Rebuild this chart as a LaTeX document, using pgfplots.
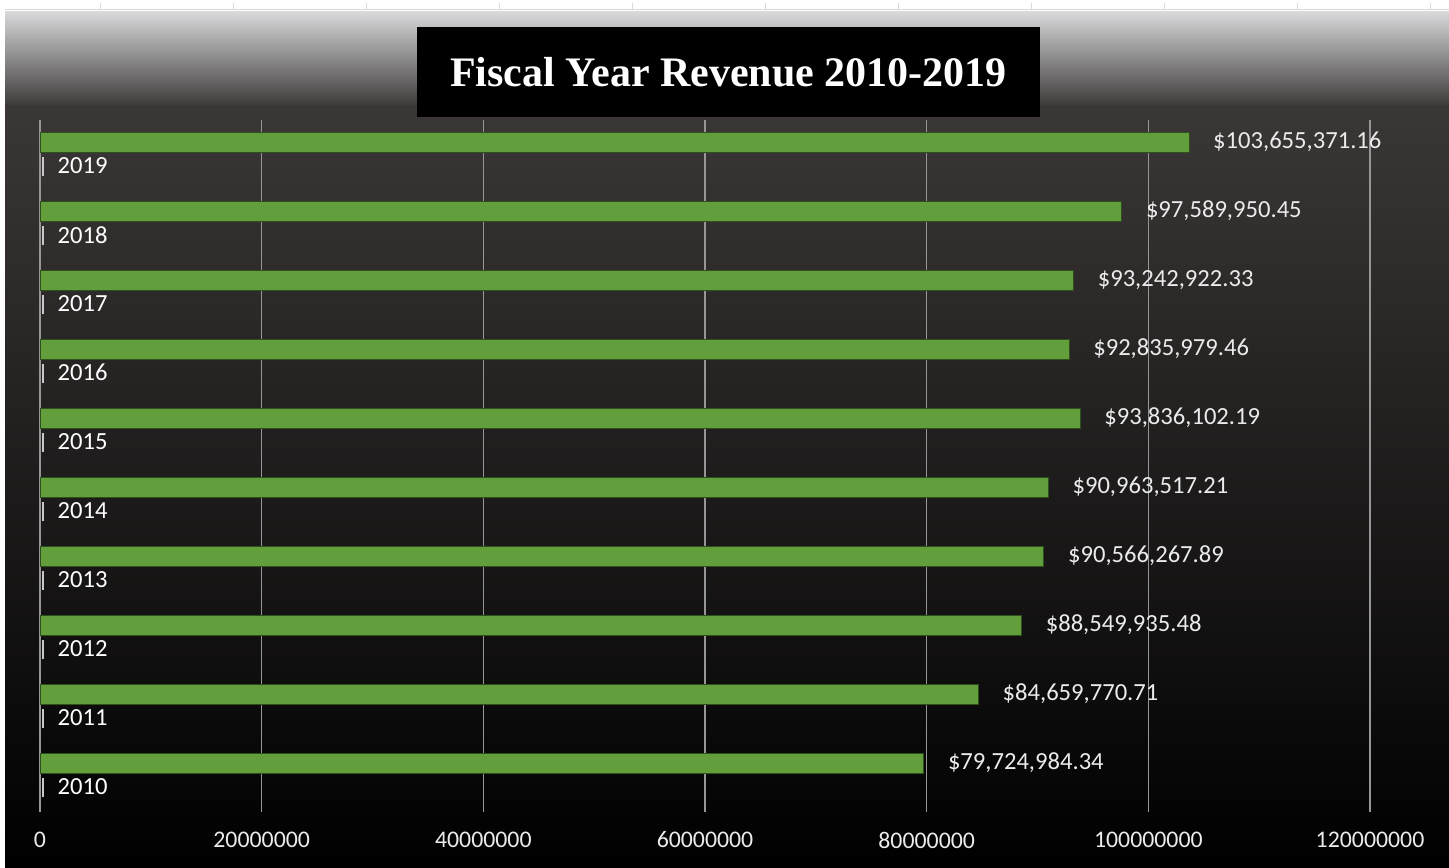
\documentclass[border=0pt]{standalone}
\usepackage{pgfplots}
\pgfplotsset{compat=1.18}
\usepackage{fontspec}
\setmainfont{Carlito}
\newfontfamily\titlefont{Liberation Serif}
\definecolor{bargreen}{RGB}{98,158,60}
\definecolor{gridgray}{RGB}{150,150,150}
\definecolor{lbl}{RGB}{235,235,235}
\definecolor{rulecol}{RGB}{200,200,200}
\begin{document}
\begin{tikzpicture}[x=1pt,y=1pt]
\useasboundingbox (0,0) rectangle (724.5,433.5);
\fill[white] (0,0) rectangle (724.5,433.5);
\draw[black!15, line width=0.6pt] (2.5,428.8) -- (724.5,428.8);
\foreach \t in {50,116.5,183,249.5,316,382.5,449,515.5,582,648.5,715}
  \draw[black!15, line width=0.5pt] (\t,428.8) -- (\t,432);
\shade[top color={rgb,255:red,216;green,216;blue,218}, bottom color={rgb,255:red,60;green,57;blue,56}] (2.5,380.5) rectangle (724.5,427.5);
\shade[top color={rgb,255:red,59;green,55;blue,54}, bottom color=black] (2.5,0) rectangle (724.5,380.6);
\begin{axis}[
  at={(20pt,27.5pt)}, anchor=south west,
  scale only axis, width=665pt, height=346pt,
  xmin=0, xmax=120000000, ymin=-0.71, ymax=9.32,
  xbar, bar width=10pt,
  axis line style={draw=none},
  xmajorgrids, grid style={color=gridgray, line width=0.7pt},
  major tick length=0pt,
  scaled x ticks=false, scaled y ticks=false,
  xtick={0,20000000,40000000,60000000,80000000,100000000,120000000},
  xticklabels={0,20000000,40000000,60000000,80000000,100000000,120000000},
  xticklabel style={anchor=center, yshift=-14pt, text=lbl, font=\fontsize{11.9}{14}\selectfont},
  ytick={-0.36,0.64,1.64,2.64,3.64,4.64,5.64,6.64,7.64,8.64},
  yticklabels={
   {\textcolor{rulecol}{\rule[-1.2pt]{0.9pt}{9.5pt}}\hspace{7pt}2010},
   {\textcolor{rulecol}{\rule[-1.2pt]{0.9pt}{9.5pt}}\hspace{7pt}2011},
   {\textcolor{rulecol}{\rule[-1.2pt]{0.9pt}{9.5pt}}\hspace{7pt}2012},
   {\textcolor{rulecol}{\rule[-1.2pt]{0.9pt}{9.5pt}}\hspace{7pt}2013},
   {\textcolor{rulecol}{\rule[-1.2pt]{0.9pt}{9.5pt}}\hspace{7pt}2014},
   {\textcolor{rulecol}{\rule[-1.2pt]{0.9pt}{9.5pt}}\hspace{7pt}2015},
   {\textcolor{rulecol}{\rule[-1.2pt]{0.9pt}{9.5pt}}\hspace{7pt}2016},
   {\textcolor{rulecol}{\rule[-1.2pt]{0.9pt}{9.5pt}}\hspace{7pt}2017},
   {\textcolor{rulecol}{\rule[-1.2pt]{0.9pt}{9.5pt}}\hspace{7pt}2018},
   {\textcolor{rulecol}{\rule[-1.2pt]{0.9pt}{9.5pt}}\hspace{7pt}2019}},
  yticklabel style={anchor=west, inner xsep=0pt, xshift=0.7pt, text=white, font=\fontsize{12.3}{14}\selectfont},
  clip=false,
  nodes near coords,
  point meta=explicit symbolic,
  every node near coord/.append style={anchor=west, xshift=8.7pt, text=lbl, font=\fontsize{12.3}{14}\selectfont},
]
\addplot[fill=bargreen, draw={rgb,255:red,45;green,80;blue,28}, line width=0.3pt] coordinates {
 (79724984.34,0) [\$79,724,984.34]
 (84659770.71,1) [\$84,659,770.71]
 (88549935.48,2) [\$88,549,935.48]
 (90566267.89,3) [\$90,566,267.89]
 (90963517.21,4) [\$90,963,517.21]
 (93836102.19,5) [\$93,836,102.19]
 (92835979.46,6) [\$92,835,979.46]
 (93242922.33,7) [\$93,242,922.33]
 (97589950.45,8) [\$97,589,950.45]
 (103655371.16,9) [\$103,655,371.16]
};
\end{axis}
\node[fill=black, text=white, minimum width=311.5pt, minimum height=45pt, inner sep=0pt,
  font=\titlefont\bfseries\fontsize{21}{24}\selectfont] at (364.25,397.5) {Fiscal Year Revenue 2010-2019};
\end{tikzpicture}
\end{document}
